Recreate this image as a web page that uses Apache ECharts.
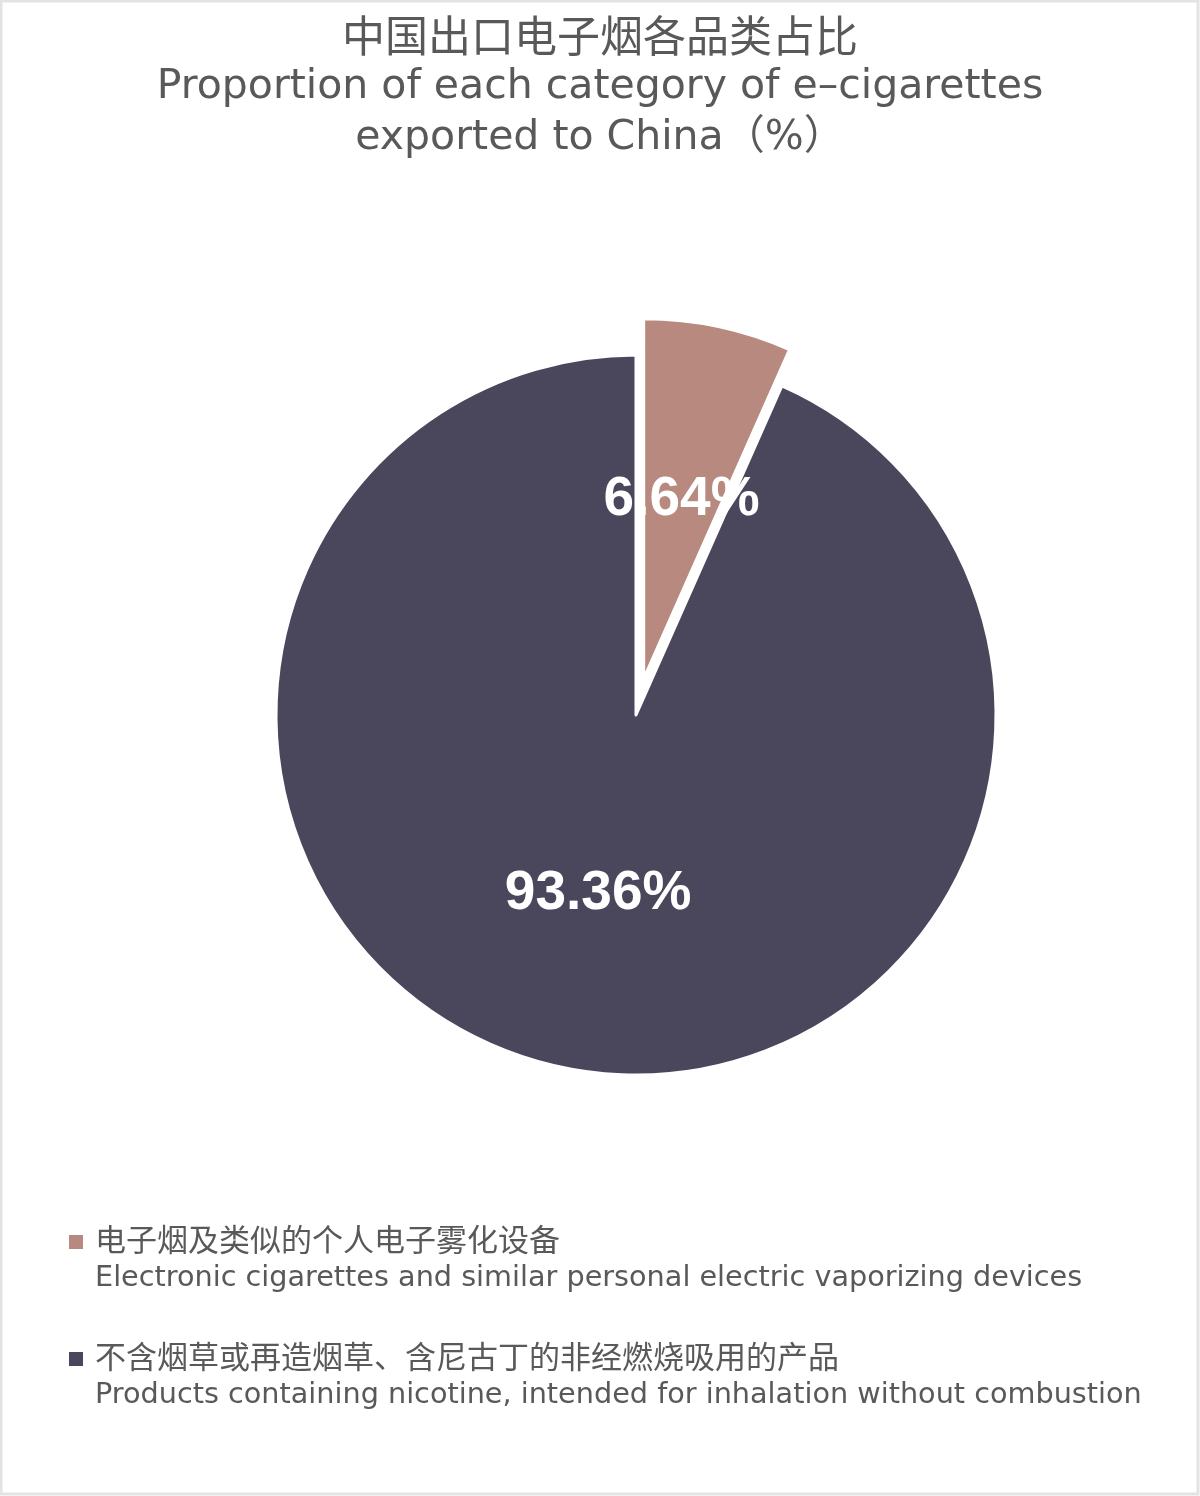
<!DOCTYPE html>
<html>
<head>
<meta charset="utf-8">
<script src="https://cdn.jsdelivr.net/npm/echarts@6/dist/echarts.min.js"></script>
<style>
html,body{margin:0;padding:0;background:#fff;}
#chart{width:1200px;height:1496px;}
</style>
</head>
<body>
<div id="chart"></div>
<script>
const titleCn = '中国出口电子烟各品类占比';
const titleEn1 = 'Proportion of each category of e–cigarettes';
const titleEn2 = 'exported to China（%）';
const namesCn = ['电子烟及类似的个人电子雾化设备', '不含烟草或再造烟草、含尼古丁的非经燃烧吸用的产品'];
const namesEn = ['Electronic cigarettes and similar personal electric vaporizing devices', 'Products containing nicotine, intended for inhalation without combustion'];
const values = [6.64, 93.36];
const colors = ['#b8897f', '#4a475c'];

const chart = echarts.init(document.getElementById('chart'), null, {renderer: 'canvas'});
const data = values.map((v, i) => ({
  name: namesCn[i],
  value: v,
  selected: i === 0,
  itemStyle: {color: colors[i]}
}));
const enMap = {};
namesCn.forEach((n, i) => enMap[n] = namesEn[i]);

const latin = '"DejaVu Sans", "Noto Sans CJK SC", sans-serif';
const cjk = '"Noto Sans CJK SC", sans-serif';

chart.setOption({
  backgroundColor: '#fff',
  animation: false,
  title: {
    text: '{cn|' + titleCn + '}\n{en|' + titleEn1 + '}\n{en|' + titleEn2 + '}',
    left: 'center',
    top: 4,
    textStyle: {
      fontWeight: 'normal',
      rich: {
        cn: {fontFamily: cjk, fontSize: 43, fontWeight: 'normal', color: '#595959', lineHeight: 53, align: 'center'},
        en: {fontFamily: latin, fontSize: 41, fontWeight: 'normal', color: '#595959', lineHeight: 51, align: 'center'}
      }
    }
  },
  graphic: [{
    type: 'rect',
    shape: {x: 1, y: 1, width: 1197, height: 1493},
    style: {fill: 'none', stroke: '#e3e3e3', lineWidth: 3},
    silent: true
  }],
  legend: {
    orient: 'vertical',
    left: 67,
    top: 1184,
    padding: 0,
    itemWidth: 16,
    itemHeight: 16,
    itemGap: 1,
    icon: 'rect',
    data: namesCn,
    formatter: n => '{s| }\n{cn|' + n + '}\n{en|' + enMap[n] + '}',
    textStyle: {
      lineHeight: 37,
      rich: {
        s: {fontSize: 20, lineHeight: 37, padding: [0, 0, 0, 6]},
        cn: {fontFamily: cjk, fontSize: 31, lineHeight: 37, color: '#595959', padding: [0, 0, 0, 6]},
        en: {fontFamily: latin, fontSize: 28.7, lineHeight: 42, color: '#595959', padding: [0, 0, 0, 6]}
      }
    }
  },
  series: [{
    type: 'pie',
    center: [636, 715],
    radius: [0, 360],
    startAngle: 90,
    clockwise: true,
    selectedMode: 'single',
    selectedOffset: 37,
    data: data,
    itemStyle: {borderColor: '#fff', borderWidth: 3},
    label: {
      show: true,
      position: 'inside',
      formatter: p => p.value.toFixed(2) + '%',
      color: '#fff',
      fontFamily: '"Liberation Sans", Arial, sans-serif',
      fontWeight: 'bold',
      fontSize: 55
    },
    labelLine: {show: false},
    emphasis: {disabled: true}
  }]
});
</script>
</body>
</html>
